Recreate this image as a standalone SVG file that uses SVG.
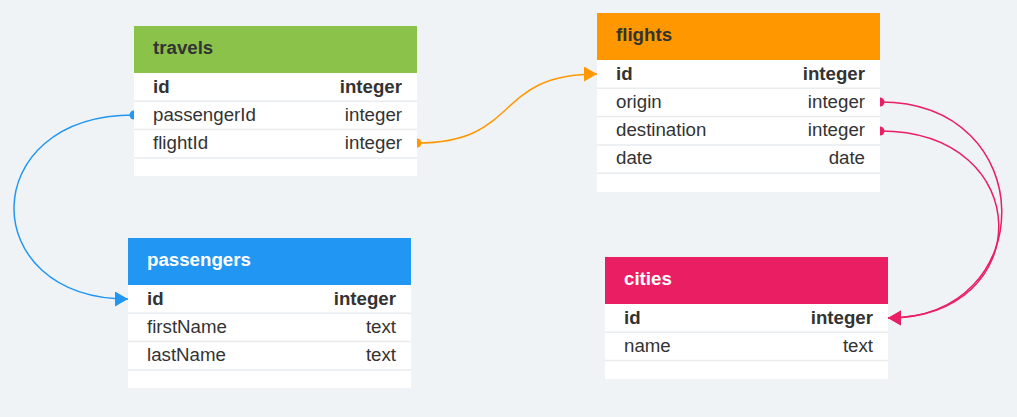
<svg xmlns="http://www.w3.org/2000/svg" width="1017" height="417" viewBox="0 0 1017 417">
<style>
text{font-family:"Liberation Sans",Arial,sans-serif;font-size:18.7px;fill:#333}
.h{font-weight:bold}
.hw{font-weight:bold;fill:#fff}
.b{font-weight:bold}
.r{text-anchor:end}
.row{fill:#fff}
.sep{stroke:#e9ecef;stroke-width:1.5}
.conn{fill:none;stroke-width:1.5}
</style>
<defs>
<marker id="arB" markerUnits="userSpaceOnUse" markerWidth="14" markerHeight="16" refX="13" refY="7.5" orient="auto"><path d="M0,0L13,7.5L0,15z" fill="#2196F3"/></marker>
<marker id="arO" markerUnits="userSpaceOnUse" markerWidth="14" markerHeight="16" refX="13" refY="7.5" orient="auto"><path d="M0,0L13,7.5L0,15z" fill="#FF9800"/></marker>
<marker id="arP" markerUnits="userSpaceOnUse" markerWidth="14" markerHeight="16" refX="13" refY="7.5" orient="auto"><path d="M0,0L13,7.5L0,15z" fill="#E91E63"/></marker>
<marker id="cB" markerUnits="userSpaceOnUse" markerWidth="10" markerHeight="10" refX="5" refY="5"><circle cx="5" cy="5" r="4.5" fill="#2196F3"/></marker>
<marker id="cO" markerUnits="userSpaceOnUse" markerWidth="10" markerHeight="10" refX="5" refY="5"><circle cx="5" cy="5" r="4.5" fill="#FF9800"/></marker>
<marker id="cP" markerUnits="userSpaceOnUse" markerWidth="10" markerHeight="10" refX="5" refY="5"><circle cx="5" cy="5" r="4.5" fill="#E91E63"/></marker>
</defs>
<rect width="1017" height="417" fill="#eff3f6"/>
<g id="connectors">
<path class="conn" stroke="#2196F3" d="M134,115 C-25,115 -25,299 128,299" marker-start="url(#cB)" marker-end="url(#arB)"/>
<path class="conn" stroke="#FF9800" d="M417,143 C522,143 492,74 597,74" marker-start="url(#cO)" marker-end="url(#arO)"/>
<path class="conn" stroke="#E91E63" d="M880,102 C1041,102 1041,318 888,318" marker-start="url(#cP)" marker-end="url(#arP)"/>
<path class="conn" stroke="#E91E63" d="M880,131 C1037,131 1037,318 888,318" marker-start="url(#cP)" marker-end="url(#arP)"/>
</g>
<g id="travels">
<rect class="row" x="134" y="73" width="283" height="103"/>
<rect x="134" y="26" width="283" height="47" fill="#8BC34A"/>
<line class="sep" x1="134" y1="101.3" x2="417" y2="101.3"/>
<line class="sep" x1="134" y1="129.6" x2="417" y2="129.6"/>
<line class="sep" x1="134" y1="157.9" x2="417" y2="157.9"/>
<text class="h" x="153" y="54">travels</text>
<text class="b" x="153" y="92.5">id</text><text class="b r" x="402" y="92.5">integer</text>
<text x="153" y="120.5">passengerId</text><text class="r" x="402" y="120.5">integer</text>
<text x="153" y="149">flightId</text><text class="r" x="402" y="149">integer</text>
</g>
<g id="flights">
<rect class="row" x="597" y="60" width="283" height="132"/>
<rect x="597" y="13" width="283" height="47" fill="#FF9800"/>
<line class="sep" x1="597" y1="88.3" x2="880" y2="88.3"/>
<line class="sep" x1="597" y1="116.6" x2="880" y2="116.6"/>
<line class="sep" x1="597" y1="144.9" x2="880" y2="144.9"/>
<line class="sep" x1="597" y1="173.2" x2="880" y2="173.2"/>
<text class="h" x="616" y="41">flights</text>
<text class="b" x="616" y="79.5">id</text><text class="b r" x="865" y="79.5">integer</text>
<text x="616" y="107.5">origin</text><text class="r" x="865" y="107.5">integer</text>
<text x="616" y="136">destination</text><text class="r" x="865" y="136">integer</text>
<text x="616" y="164">date</text><text class="r" x="865" y="164">date</text>
</g>
<g id="passengers">
<rect class="row" x="128" y="285" width="283" height="103"/>
<rect x="128" y="238" width="283" height="47" fill="#2196F3"/>
<line class="sep" x1="128" y1="313.3" x2="411" y2="313.3"/>
<line class="sep" x1="128" y1="341.6" x2="411" y2="341.6"/>
<line class="sep" x1="128" y1="369.9" x2="411" y2="369.9"/>
<text class="hw" x="147" y="266">passengers</text>
<text class="b" x="147" y="304.5">id</text><text class="b r" x="396" y="304.5">integer</text>
<text x="147" y="332.5">firstName</text><text class="r" x="396" y="332.5">text</text>
<text x="147" y="361">lastName</text><text class="r" x="396" y="361">text</text>
</g>
<g id="cities">
<rect class="row" x="605" y="304" width="283" height="75"/>
<rect x="605" y="257" width="283" height="47" fill="#E91E63"/>
<line class="sep" x1="605" y1="332.3" x2="888" y2="332.3"/>
<line class="sep" x1="605" y1="360.6" x2="888" y2="360.6"/>
<text class="hw" x="624" y="285">cities</text>
<text class="b" x="624" y="323.5">id</text><text class="b r" x="873" y="323.5">integer</text>
<text x="624" y="351.5">name</text><text class="r" x="873" y="351.5">text</text>
</g>
</svg>
